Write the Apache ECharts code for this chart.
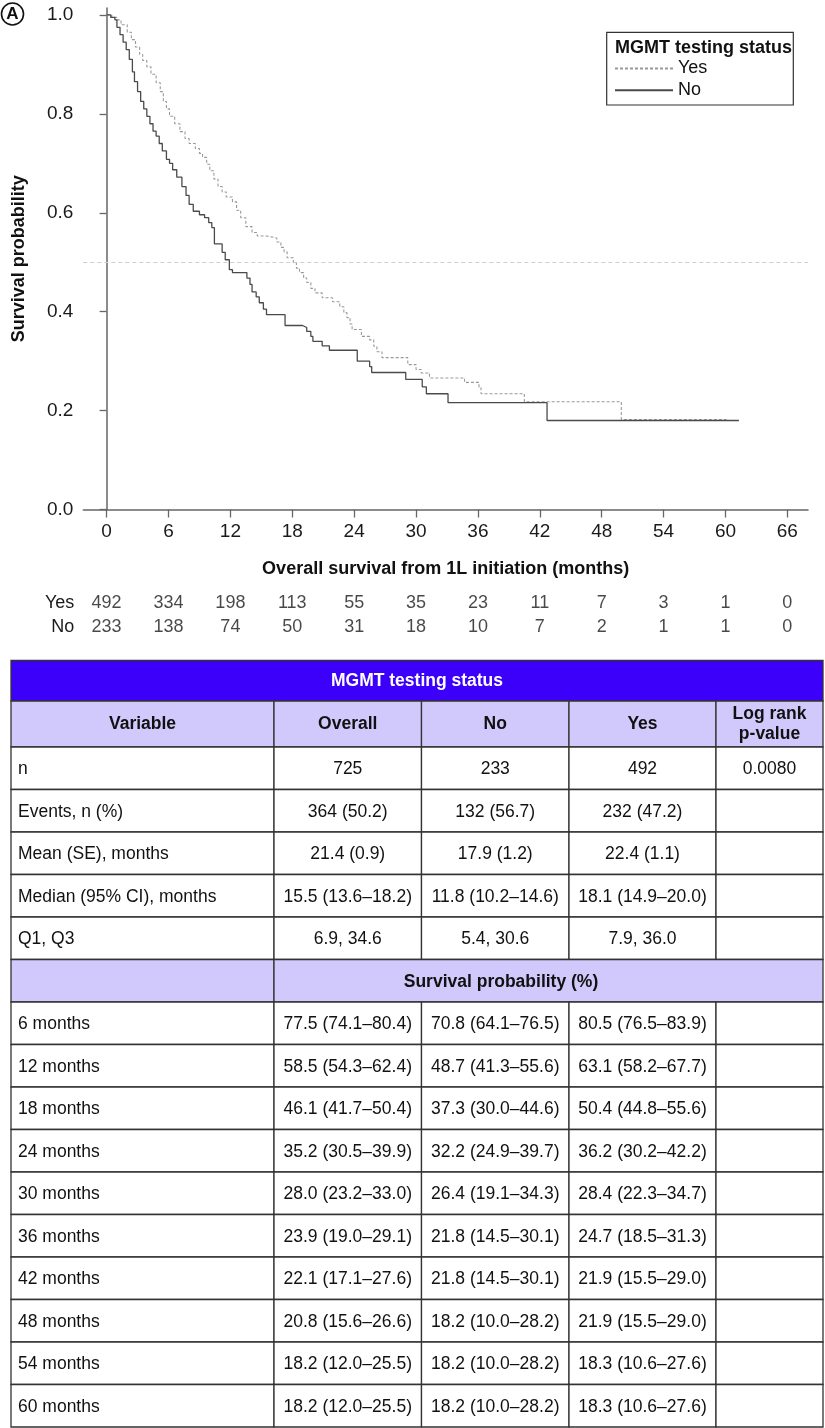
<!DOCTYPE html>
<html><head><meta charset="utf-8">
<script src="https://cdn.jsdelivr.net/npm/echarts@6/dist/echarts.min.js"></script>
<style>html,body{margin:0;padding:0;background:#fff}#c{width:825px;height:1428px}</style>
</head><body><div id="c"></div>
<script>
// ---------- DATA ----------
const xTicks = [0, 6, 12, 18, 24, 30, 36, 42, 48, 54, 60, 66];
const yTicks = [0, 0.2, 0.4, 0.6, 0.8, 1.0];
const groupNames = ['Yes', 'No'];

const yesTimes = [0,0.5,1.0,1.4,2.0,2.4,2.8,3.2,3.5,3.9,4.3,4.8,5.2,5.5,5.8,6.1,6.6,7.1,7.6,8.0,8.6,9.0,9.3,9.7,10.0,10.4,10.8,11.2,11.6,12.2,12.6,13.0,13.5,14.1,14.6,15.5,16.5,16.9,17.2,17.5,18.1,18.4,18.7,19.1,19.4,19.8,20.2,20.9,21.9,22.6,23.0,23.3,23.6,23.8,24.7,25.5,25.9,26.2,26.7,29.2,30.0,30.5,31.3,34.7,36.1,36.3,40.5,49.9,60.1];
const yesSurv  = [1.0,0.995,0.99,0.98,0.965,0.95,0.935,0.92,0.908,0.895,0.88,0.863,0.845,0.825,0.81,0.795,0.78,0.764,0.75,0.74,0.73,0.72,0.712,0.698,0.685,0.668,0.653,0.642,0.632,0.622,0.605,0.59,0.572,0.56,0.553,0.549,0.541,0.53,0.521,0.509,0.499,0.488,0.479,0.468,0.459,0.447,0.438,0.428,0.42,0.41,0.398,0.388,0.375,0.364,0.35,0.343,0.33,0.319,0.307,0.293,0.283,0.276,0.266,0.257,0.246,0.234,0.218,0.182,0.182];

const noTimes = [0,0.4,0.8,1.0,1.3,1.6,1.9,2.2,2.5,2.7,3.0,3.3,3.6,3.9,4.2,4.5,4.8,5.1,5.4,5.8,6.1,6.4,6.8,7.3,7.7,8.0,8.4,9.0,9.5,9.9,10.2,10.45,11.2,11.5,11.9,12.2,13.6,13.9,14.1,14.5,14.8,15.2,15.5,17.3,19.0,19.4,19.8,20.0,20.9,21.6,24.3,25.5,25.7,29.0,30.6,31.0,33.1,42.7,61.3];
const noSurv  = [1.0,0.995,0.99,0.975,0.96,0.945,0.93,0.91,0.885,0.865,0.845,0.825,0.81,0.795,0.78,0.765,0.755,0.74,0.725,0.708,0.70,0.687,0.672,0.653,0.635,0.617,0.603,0.596,0.59,0.58,0.57,0.537,0.52,0.505,0.485,0.479,0.468,0.455,0.44,0.43,0.418,0.405,0.394,0.372,0.368,0.36,0.35,0.34,0.331,0.322,0.30,0.289,0.277,0.263,0.248,0.234,0.216,0.18,0.18];

const medianRef = 0.5;
const riskYes = [492, 334, 198, 113, 55, 35, 23, 11, 7, 3, 1, 0];
const riskNo  = [233, 138, 74, 50, 31, 18, 10, 7, 2, 1, 1, 0];

const legendTitle = 'MGMT testing status';
const xTitle = 'Overall survival from 1L initiation (months)';
const yTitle = 'Survival probability';
const panelLabel = 'A';

const tableTitle = 'MGMT testing status';
const tableColumns = ['Variable', 'Overall', 'No', 'Yes', 'Log rank\np-value'];
const statRows = [
  ['n', '725', '233', '492', '0.0080'],
  ['Events, n (%)', '364 (50.2)', '132 (56.7)', '232 (47.2)', ''],
  ['Mean (SE), months', '21.4 (0.9)', '17.9 (1.2)', '22.4 (1.1)', ''],
  ['Median (95% CI), months', '15.5 (13.6–18.2)', '11.8 (10.2–14.6)', '18.1 (14.9–20.0)', ''],
  ['Q1, Q3', '6.9, 34.6', '5.4, 30.6', '7.9, 36.0', '']
];
const survHeader = 'Survival probability (%)';
const survRows = [
  ['6 months', '77.5 (74.1–80.4)', '70.8 (64.1–76.5)', '80.5 (76.5–83.9)', ''],
  ['12 months', '58.5 (54.3–62.4)', '48.7 (41.3–55.6)', '63.1 (58.2–67.7)', ''],
  ['18 months', '46.1 (41.7–50.4)', '37.3 (30.0–44.6)', '50.4 (44.8–55.6)', ''],
  ['24 months', '35.2 (30.5–39.9)', '32.2 (24.9–39.7)', '36.2 (30.2–42.2)', ''],
  ['30 months', '28.0 (23.2–33.0)', '26.4 (19.1–34.3)', '28.4 (22.3–34.7)', ''],
  ['36 months', '23.9 (19.0–29.1)', '21.8 (14.5–30.1)', '24.7 (18.5–31.3)', ''],
  ['42 months', '22.1 (17.1–27.6)', '21.8 (14.5–30.1)', '21.9 (15.5–29.0)', ''],
  ['48 months', '20.8 (15.6–26.6)', '18.2 (10.0–28.2)', '21.9 (15.5–29.0)', ''],
  ['54 months', '18.2 (12.0–25.5)', '18.2 (10.0–28.2)', '18.3 (10.6–27.6)', ''],
  ['60 months', '18.2 (12.0–25.5)', '18.2 (10.0–28.2)', '18.3 (10.6–27.6)', '']
];

// ---------- LAYOUT / STYLE ----------
const FONT = '"Liberation Sans", Arial, Helvetica, sans-serif';
const gridLeft = 83.3, gridTop = 8, gridW = 724.7, gridH = 501.5;
const xMin = -2.26, xMax = 68.0, yMax = 1.014;

const chart = echarts.init(document.getElementById('c'), null, {renderer: 'canvas'});

const g = [];
// panel label
g.push({type: 'circle', shape: {cx: 12.5, cy: 14, r: 11}, style: {fill: 'none', stroke: '#111', lineWidth: 1.6}});
g.push({type: 'text', x: 12.5, y: 14.5, style: {text: panelLabel, font: 'bold 17px ' + FONT, fill: '#111', align: 'center', verticalAlign: 'middle'}});
// legend box + title
g.push({type: 'rect', shape: {x: 606.7, y: 32.3, width: 186.6, height: 72.7}, style: {fill: 'none', stroke: '#333', lineWidth: 1.2}});
g.push({type: 'text', x: 615, y: 48.5, style: {text: legendTitle, font: 'bold 18px ' + FONT, fill: '#111', align: 'left', verticalAlign: 'middle'}});

// table
const colX = [11, 274, 421.5, 569, 716, 823];
const tTop = 660.5, h1 = 40.5, h2 = 46, rowH = 42.5;
const PURPLE = '#3c00fa', LAV = '#d1c9fc', BORDER = '#333';
const cellFont = '17.5px ' + FONT, boldFont = 'bold 17.5px ' + FONT;
function cell(x0, x1, y0, h, fill) {
  g.push({type: 'rect', shape: {x: x0, y: y0, width: x1 - x0, height: h}, style: {fill: fill || '#fff', stroke: BORDER, lineWidth: 1.3}});
}
function txt(s, x, y, font, fill, align) {
  g.push({type: 'text', x: x, y: y, style: {text: s, font: font, fill: fill || '#111', align: align || 'center', verticalAlign: 'middle', lineHeight: 20}});
}
// title row
cell(colX[0], colX[5], tTop, h1, PURPLE);
txt(tableTitle, (colX[0] + colX[5]) / 2, tTop + h1 / 2 + 0.5, boldFont, '#fff');
// column header row
let y = tTop + h1;
for (let c = 0; c < 5; c++) {
  cell(colX[c], colX[c + 1], y, h2, LAV);
  txt(tableColumns[c], (colX[c] + colX[c + 1]) / 2, y + h2 / 2, boldFont);
}
y += h2;
function dataRow(r) {
  for (let c = 0; c < 5; c++) {
    cell(colX[c], colX[c + 1], y, rowH, '#fff');
    if (c === 0) txt(r[c], colX[0] + 7, y + rowH / 2 + 1, cellFont, '#111', 'left');
    else txt(r[c], (colX[c] + colX[c + 1]) / 2, y + rowH / 2 + 1, cellFont);
  }
  y += rowH;
}
statRows.forEach(dataRow);
cell(colX[0], colX[1], y, rowH, LAV);
cell(colX[1], colX[5], y, rowH, LAV);
txt(survHeader, 501, y + rowH / 2 + 1, boldFont);
y += rowH;
survRows.forEach(dataRow);

const option = {
  animation: false,
  backgroundColor: '#fff',
  textStyle: {fontFamily: FONT},
  grid: [
    {left: gridLeft, top: gridTop, width: gridW, height: gridH, containLabel: false},
    {left: gridLeft, top: 591, width: gridW, height: 48, containLabel: false}
  ],
  xAxis: [
    {
      type: 'value', gridIndex: 0, min: xMin, max: xMax,
      axisLine: {show: true, onZero: false, lineStyle: {color: '#666', width: 1.5}},
      axisTick: {show: true, length: 8, customValues: xTicks, lineStyle: {color: '#666', width: 1.3}},
      axisLabel: {customValues: xTicks, fontSize: 19, color: '#1a1a1a', margin: 13, fontFamily: FONT},
      splitLine: {show: false},
      name: xTitle, nameLocation: 'middle', nameGap: 51,
      nameTextStyle: {fontSize: 18, fontWeight: 'bold', color: '#111', fontFamily: FONT}
    },
    {type: 'value', gridIndex: 1, min: xMin, max: xMax, show: false}
  ],
  yAxis: [
    {
      type: 'value', gridIndex: 0, min: 0, max: yMax,
      axisLine: {show: true, lineStyle: {color: '#666', width: 1.5}},
      axisTick: {show: true, length: 7, customValues: yTicks, lineStyle: {color: '#666', width: 1.3}},
      axisLabel: {customValues: yTicks, formatter: v => v.toFixed(1), fontSize: 19, color: '#1a1a1a', margin: 10, fontFamily: FONT},
      splitLine: {show: false},
      name: yTitle, nameLocation: 'middle', nameGap: 55,
      nameTextStyle: {fontSize: 18, fontWeight: 'bold', color: '#111', fontFamily: FONT}
    },
    {
      type: 'category', gridIndex: 1, data: ['No', 'Yes'],
      axisLine: {show: false}, axisTick: {show: false}, splitLine: {show: false},
      axisLabel: {fontSize: 18, color: '#1a1a1a', margin: 9, fontFamily: FONT}
    }
  ],
  legend: {
    data: groupNames, orient: 'vertical', left: 614, top: 59.5, padding: 0,
    itemWidth: 58, itemHeight: 14, itemGap: 3.7,
    itemStyle: {opacity: 0},
    textStyle: {fontSize: 18, color: '#111', fontFamily: FONT},
    selectedMode: false
  },
  graphic: {elements: g},
  series: [
    {
      name: 'Yes', type: 'line', step: 'end', symbol: 'none', xAxisIndex: 0, yAxisIndex: 0,
      data: yesTimes.map((t, i) => [t, yesSurv[i]]),
      lineStyle: {color: '#999', width: 1.1, type: [3, 2]},
      itemStyle: {color: '#999'},
      z: 3,
      markLine: {
        silent: true, symbol: ['none', 'none'], label: {show: false},
        lineStyle: {color: '#cfcfcf', width: 1, type: [4, 3]},
        data: [{yAxis: medianRef}]
      }
    },
    {
      name: 'No', type: 'line', step: 'end', symbol: 'none', xAxisIndex: 0, yAxisIndex: 0,
      data: noTimes.map((t, i) => [t, noSurv[i]]),
      lineStyle: {color: '#4a4a4a', width: 1.3, type: 'solid'},
      itemStyle: {color: '#4a4a4a'},
      z: 4
    },
    {
      name: 'riskYes', type: 'scatter', xAxisIndex: 1, yAxisIndex: 1, symbolSize: 1,
      itemStyle: {color: 'rgba(0,0,0,0)'},
      label: {show: true, position: 'inside', formatter: p => p.value[2], fontSize: 18, color: '#1a1a1a', fontFamily: FONT},
      data: riskYes.map((n, i) => [xTicks[i], 'Yes', n])
    },
    {
      name: 'riskNo', type: 'scatter', xAxisIndex: 1, yAxisIndex: 1, symbolSize: 1,
      itemStyle: {color: 'rgba(0,0,0,0)'},
      label: {show: true, position: 'inside', formatter: p => p.value[2], fontSize: 18, color: '#1a1a1a', fontFamily: FONT},
      data: riskNo.map((n, i) => [xTicks[i], 'No', n])
    }
  ]
};
chart.setOption(option);
</script>
</body></html>
